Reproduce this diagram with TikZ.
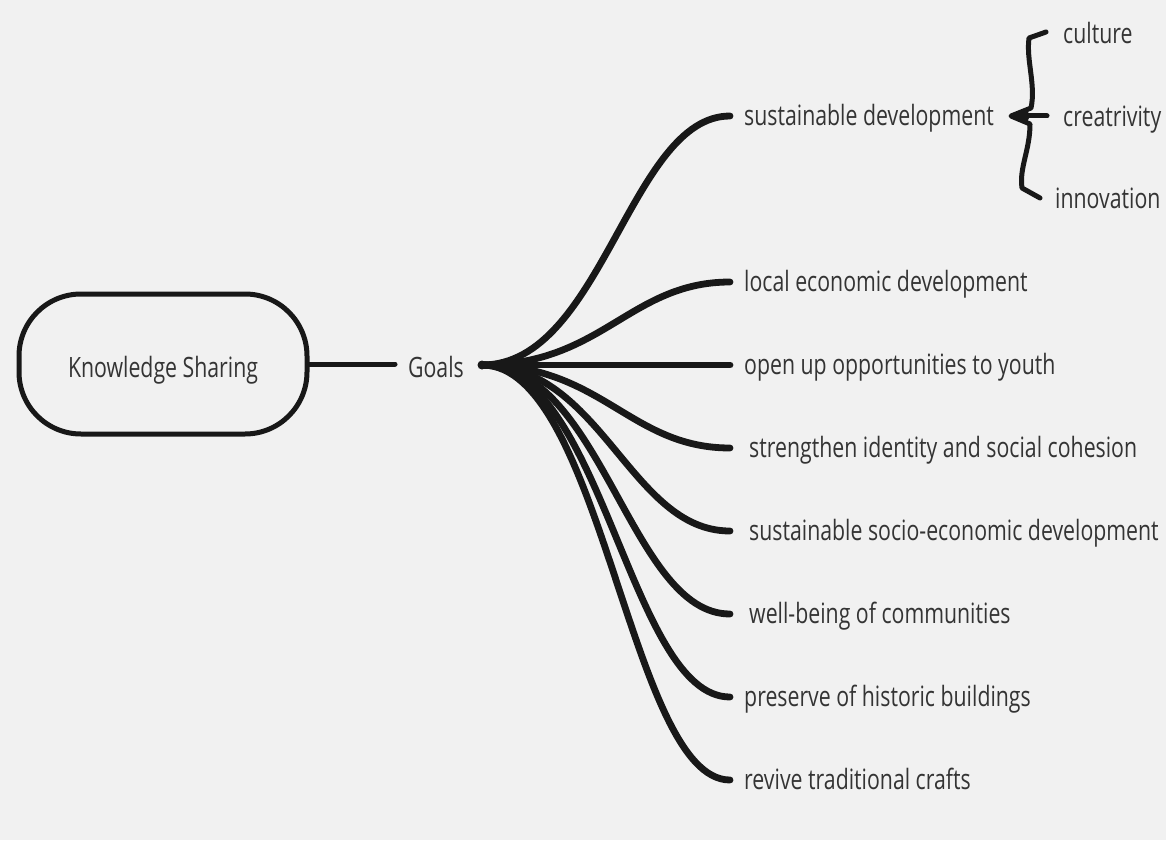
\documentclass[tikz,border=0pt]{standalone}
\usepackage{fontspec}
\setmainfont{Open Sans}[FakeStretch=0.76]
\begin{document}
\definecolor{bg}{RGB}{241,241,241}
\definecolor{ink}{RGB}{24,24,24}
\definecolor{txt}{RGB}{52,52,52}
\begin{tikzpicture}[x=1pt,y=-1pt,
  lbl/.style={anchor=base west,inner sep=0pt,text=txt,font=\fontsize{28}{32}\selectfont},
  branch/.style={draw=ink,line width=6.8pt,line cap=round},
  thinline/.style={draw=ink,line width=5pt,line cap=round,line join=round}]
\fill[bg] (0,0) rectangle (1166,840);
\useasboundingbox (0,0) rectangle (1166,840);

% root node and the Goals hub
\node[draw=ink,line width=5pt,rounded corners=62pt,minimum width=288pt,minimum height=140pt] (root) at (163,364) {};
\node[anchor=base,inner sep=0pt,text=txt,font=\fontsize{28}{32}\selectfont] (kname) at (163,377) {Knowledge Sharing};
\node[anchor=base,inner sep=0pt,text=txt,font=\fontsize{28}{32}\selectfont] (goals) at (436,377) {Goals};
\coordinate (hub) at (482,365);
\coordinate (k) at (395,364);
\draw[thinline] (root.east) -- (k);

% branch ends
\coordinate (e1) at (730,116);
\coordinate (e2) at (730,282);
\coordinate (e3) at (730,365);
\coordinate (e4) at (730,448);
\coordinate (e5) at (730,531);
\coordinate (e6) at (730,614);
\coordinate (e7) at (730,697);
\coordinate (e8) at (730,780);

\foreach \e in {e1,e2,e4,e5,e6,e7,e8}
  \draw[branch] (hub) .. controls +(120,0) and +(-100,0) .. (\e);
\draw[branch] (hub) -- (e3);
\fill[ink] (hub) circle (4.5pt);

% branch labels (placed on their baselines)
\node[lbl] (g1) at (744,125.5) {sustainable development};
\node[lbl] (g2) at (744,291.5) {local economic development};
\node[lbl] (g3) at (744,374.5) {open up opportunities to youth};
\node[lbl] (g4) at (749,457.5) {strengthen identity and social cohesion};
\node[lbl] (g5) at (749,540.5) {sustainable socio-economic development};
\node[lbl] (g6) at (749,623.5) {well-being of communities};
\node[lbl] (g7) at (744,706.5) {preserve of historic buildings};
\node[lbl] (g8) at (744,789.5) {revive traditional crafts};

% brace grouping the three sub-goals
\coordinate (btop) at (1046,32);
\coordinate (bmid) at (1047,116);
\coordinate (bbot) at (1040,198);
\coordinate (btip) at (1011,116);
\draw[thinline] (btop) -- (1029,38) .. controls (1026,60) and (1036,85) .. (1031,108)
   -- (btip) -- (1030,124) .. controls (1030,150) and (1019,168) .. (1022,188) -- (bbot);
\draw[thinline] (1022,116) -- (bmid);
\fill[ink] (btip) -- (1026,108) -- (1030,116) -- (1026,124) -- cycle;

\node[lbl] (s1) at (1063,44) {culture};
\node[lbl] (s2) at (1063,126) {creatrivity};
\node[lbl] (s3) at (1055,208) {innovation};
\end{tikzpicture}
\end{document}
